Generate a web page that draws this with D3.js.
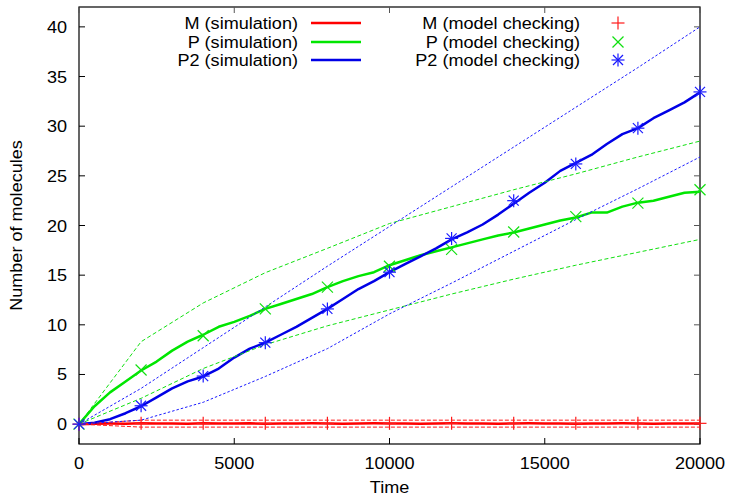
<!DOCTYPE html>
<html>
<head>
<meta charset="utf-8">
<script src="https://cdn.jsdelivr.net/npm/d3@7"></script>
<style>
  body { margin: 0; background: #fff; }
  svg { display: block; }
  text { font-family: "Liberation Sans", Arial, sans-serif; font-size: 16px; fill: #000; }
</style>
</head>
<body>
<svg id="chart" width="730" height="498"></svg>
<script>
// simulation traces, sampled every 500 time units
const simTime = [0,500,1000,1500,2000,2500,3000,3500,4000,4500,5000,5500,6000,6500,7000,7500,8000,8500,9000,9500,
  10000,10500,11000,11500,12000,12500,13000,13500,14000,14500,15000,15500,16000,16500,17000,17500,18000,18500,19000,19500,20000]
const simM = [0,0.04,0.06,0.05,0.08,0.06,0.07,0.05,0.09,0.07,0.06,0.08,0.05,0.07,0.06,0.08,0.07,0.05,0.06,0.08,
  0.07,0.06,0.05,0.07,0.08,0.06,0.07,0.05,0.06,0.08,0.07,0.06,0.05,0.07,0.06,0.08,0.07,0.05,0.06,0.07,0.06]
const simP = [0,1.8,3.2,4.3,5.4,6.3,7.4,8.3,9.0,9.8,10.3,10.9,11.6,12.1,12.6,13.1,13.8,14.4,14.9,15.3,
  16.0,16.5,17.0,17.4,17.8,18.2,18.6,19.0,19.3,19.7,20.1,20.5,20.8,21.3,21.3,21.9,22.3,22.5,22.9,23.3,23.4]
const simP2 = [0,0.15,0.5,1.1,1.8,2.7,3.6,4.3,4.8,5.6,6.7,7.6,8.2,9.0,9.8,10.7,11.6,12.6,13.6,14.4,
  15.3,16.1,16.9,17.7,18.6,19.3,20.1,21.1,22.2,23.3,24.3,25.5,26.3,27.1,28.2,29.2,29.8,30.8,31.6,32.4,33.4]

// model checking: mean and mean +/- sd, every 2000 time units
const mcTime = [0,2000,4000,6000,8000,10000,12000,14000,16000,18000,20000]
const mcM    = [0,0.08,0.08,0.08,0.08,0.08,0.08,0.08,0.08,0.08,0.08]
const mcMlo  = [0,-0.3,-0.3,-0.3,-0.3,-0.3,-0.3,-0.3,-0.3,-0.3,-0.3]
const mcMhi  = [0,0.4,0.4,0.4,0.4,0.4,0.4,0.4,0.4,0.4,0.4]
const mcP    = [0,5.45,8.9,11.6,13.8,15.9,17.6,19.35,20.9,22.25,23.6]
const mcPlo  = [0,2.6,5.6,8.0,9.9,11.5,13.1,14.6,16.0,17.3,18.6]
const mcPhi  = [0,8.3,12.2,15.25,17.7,20.2,21.9,23.6,25.2,26.9,28.5]
const mcP2   = [0,1.85,4.84,8.2,11.6,15.3,18.7,22.5,26.2,29.8,33.45]
const mcP2lo = [0,0.4,2.2,4.8,7.6,11.1,14.2,17.4,20.6,23.7,26.9]
const mcP2hi = [0,3.6,7.7,11.8,15.9,19.9,23.9,27.9,31.9,35.9,40.0]

const xTicks = [0,5000,10000,15000,20000]
const yTicks = [0,5,10,15,20,25,30,35,40]
const simLabels = ['M (simulation)', 'P (simulation)', 'P2 (simulation)']
const mcLabels = ['M (model checking)', 'P (model checking)', 'P2 (model checking)']
const colors = ['#ff0000', '#00e600', '#0000e6']
const markColors = ['#ff1a1a', '#10e010', '#1a1aff']

const svg = d3.select('#chart')
const L = 79, R = 700, T = 7, B = 444
const x = d3.scaleLinear().domain([0, 20000]).range([L, R])
const y = d3.scaleLinear().domain([-2, 42]).range([B, T])
const SX = 1.13 // horizontal stretch of the original font

function label(txt, px, py, anchor) {
  svg.append('text')
    .attr('transform', `translate(${px},${py}) scale(${SX},1)`)
    .attr('text-anchor', anchor)
    .text(txt)
}

// frame
svg.append('rect').attr('x', L).attr('y', T).attr('width', R - L).attr('height', B - T)
  .attr('fill', 'none').attr('stroke', '#000').attr('stroke-width', 1.2)

// ticks (inward, mirrored)
const tk = svg.append('g').attr('stroke-width', 1)
xTicks.forEach(v => {
  tk.append('line').attr('x1', x(v)).attr('x2', x(v)).attr('y1', B).attr('y2', B - 6).attr('stroke', '#000')
  tk.append('line').attr('x1', x(v)).attr('x2', x(v)).attr('y1', T).attr('y2', T + 6).attr('stroke', '#555')
  label(d3.format('d')(v), x(v), 469, 'middle')
})
yTicks.forEach(v => {
  tk.append('line').attr('x1', L).attr('x2', L + 6).attr('y1', y(v)).attr('y2', y(v)).attr('stroke', '#000')
  tk.append('line').attr('x1', R).attr('x2', R - 6).attr('y1', y(v)).attr('y2', y(v)).attr('stroke', '#555')
  label(String(v), 67, y(v) + 6, 'end')
})

label('Time', (L + R) / 2, 493, 'middle')
svg.append('text')
  .attr('transform', `translate(22,${(T + B) / 2}) rotate(-90) scale(${SX},1)`)
  .attr('text-anchor', 'middle')
  .text('Number of molecules')

const line = d3.line().x(d => x(d[0])).y(d => y(d[1]))
const zip = (ts, vs) => ts.map((t, i) => [t, vs[i]])

// simulation lines
const sims = [simM, simP, simP2]
sims.forEach((s, i) => {
  svg.append('path').attr('d', line(zip(simTime, s)))
    .attr('fill', 'none').attr('stroke', colors[i]).attr('stroke-width', 2.5)
    .attr('stroke-linejoin', 'round')
})

// model checking bounds
const bands = [[mcMlo, mcMhi, '4,2'], [mcPlo, mcPhi, '4,2.5'], [mcP2lo, mcP2hi, '2.5,2']]
bands.forEach((b, i) => {
  [b[0], b[1]].forEach(arr => {
    svg.append('path').attr('d', line(zip(mcTime, arr)))
      .attr('fill', 'none').attr('stroke', markColors[i]).attr('stroke-width', 1)
      .attr('stroke-dasharray', b[2])
  })
})

// markers
function marker(kind, cx, cy, col) {
  const r = 6.5, g = svg.append('g').attr('stroke', col).attr('stroke-width', 1.2)
  if (kind !== 'x') {
    g.append('line').attr('x1', cx - r).attr('x2', cx + r).attr('y1', cy).attr('y2', cy)
    g.append('line').attr('x1', cx).attr('x2', cx).attr('y1', cy - r).attr('y2', cy + r)
  }
  if (kind !== '+') {
    const d = kind === 'x' ? 5.5 : 5
    g.append('line').attr('x1', cx - d).attr('x2', cx + d).attr('y1', cy - d).attr('y2', cy + d)
    g.append('line').attr('x1', cx - d).attr('x2', cx + d).attr('y1', cy + d).attr('y2', cy - d)
  }
}
const kinds = ['+', 'x', '*']
const mcs = [mcM, mcP, mcP2]
mcs.forEach((m, i) => {
  mcTime.forEach((t, j) => marker(kinds[i], x(t), y(m[j]), markColors[i]))
})

// legend
const rows = [23, 42, 60]
rows.forEach((ry, i) => {
  label(simLabels[i], 298, ry + 6, 'end')
  svg.append('line').attr('x1', 311).attr('x2', 361).attr('y1', ry).attr('y2', ry)
    .attr('stroke', colors[i]).attr('stroke-width', 2.5)
  label(mcLabels[i], 580, ry + 6, 'end')
  marker(kinds[i], 618, ry, markColors[i])
})
</script>
</body>
</html>
